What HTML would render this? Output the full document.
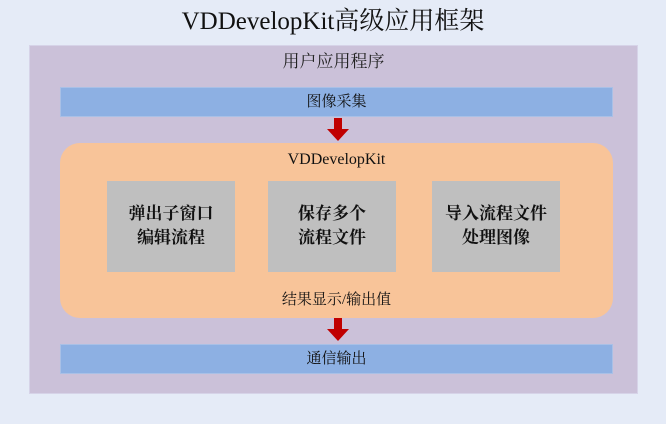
<!DOCTYPE html>
<html><head><meta charset="utf-8"><style>
body{margin:0;width:666px;height:424px;background:#e5ebf7;position:relative;overflow:hidden;font-family:"Liberation Serif","Noto Serif CJK SC","Noto Sans CJK SC",serif;color:#111}
div{position:absolute;box-sizing:border-box}
.c{text-align:center}
.bar{left:60px;width:553px;height:30px;background:#8db0e3;border:1px solid #a9c0e6;font-size:15px;line-height:28px;text-align:center}
.g{top:181px;height:91px;width:128px;background:#bfbfbf;font-weight:bold;font-size:17px;line-height:24px;text-align:center;padding-top:21px;font-family:"Liberation Serif","Noto Serif CJK SC",serif}
</style></head><body>
<div class="c" style="left:0;top:6px;width:666px;font-size:25px;line-height:32px">VDDevelopKit高级应用框架</div>
<div style="left:29px;top:45px;width:609px;height:349px;background:#cbc1d9;border:1px solid #d6d3e8"></div>
<div class="c" style="left:29px;top:50px;width:609px;font-size:17px;line-height:24px;color:#222">用户应用程序</div>
<div class="bar" style="top:87px">图像采集</div>
<svg style="position:absolute;left:326px;top:118px" width="24" height="24"><polygon points="8,0 16,0 16,11 23,11 12,23 1,11 8,11" fill="#c00000"/></svg>
<div style="left:60px;top:143px;width:553px;height:175px;background:#f8c499;border-radius:20px"></div>
<div class="c" style="left:60px;top:149px;width:553px;font-size:16px;line-height:22px">VDDevelopKit</div>
<div class="g" style="left:107px">弹出子窗口<br>编辑流程</div>
<div class="g" style="left:268px">保存多个<br>流程文件</div>
<div class="g" style="left:432px">导入流程文件<br>处理图像</div>
<div class="c" style="left:60px;top:289px;width:553px;font-size:15px;line-height:22px">结果显示/输出值</div>
<svg style="position:absolute;left:326px;top:318px" width="24" height="24"><polygon points="8,0 16,0 16,11 23,11 12,23 1,11 8,11" fill="#c00000"/></svg>
<div class="bar" style="top:344px">通信输出</div>
</body></html>
